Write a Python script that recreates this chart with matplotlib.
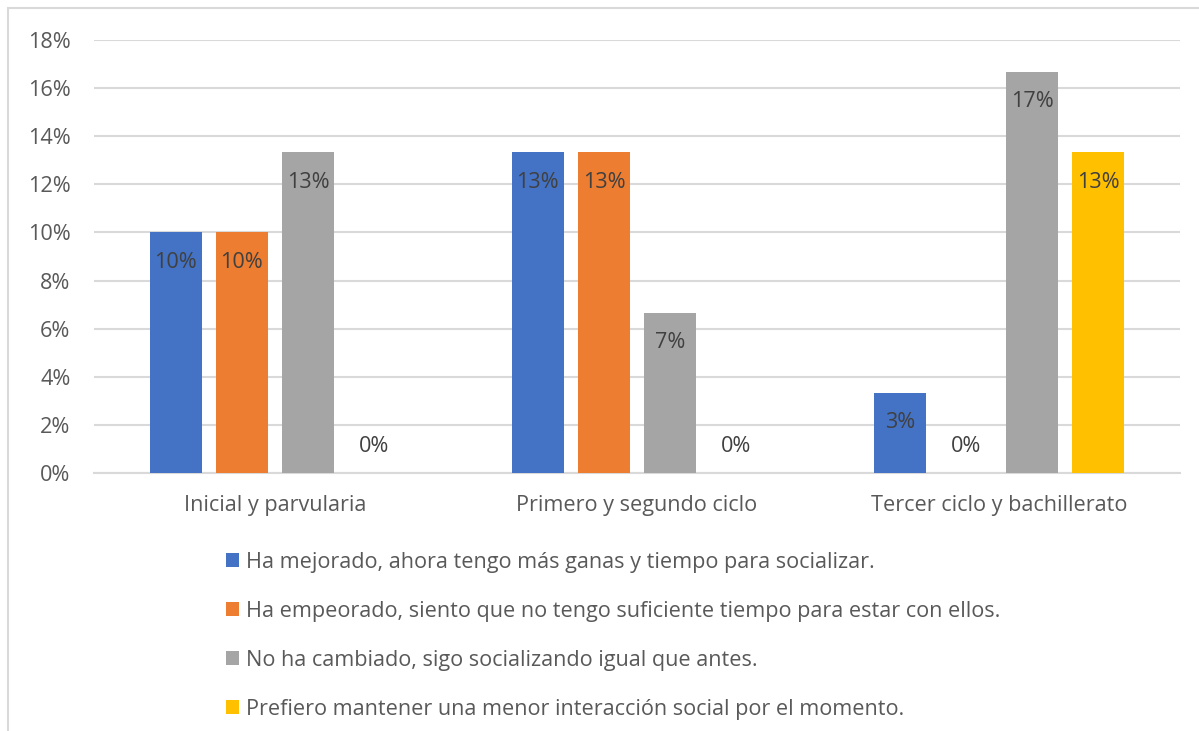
import matplotlib.pyplot as plt
from matplotlib.patches import Rectangle
from matplotlib.ticker import FuncFormatter

plt.rcParams['font.family'] = ['Open Sans', 'DejaVu Sans']

categories = ['Inicial y parvularia', 'Primero y segundo ciclo', 'Tercer ciclo y bachillerato']
series_names = [
    'Ha mejorado, ahora tengo más ganas y tiempo para socializar.',
    'Ha empeorado, siento que no tengo suficiente tiempo para estar con ellos.',
    'No ha cambiado, sigo socializando igual que antes.',
    'Prefiero mantener una menor interacción social por el momento.',
]
mejorado = [10.0, 13.33, 3.33]
empeorado = [10.0, 13.33, 0.0]
no_cambiado = [13.33, 6.67, 16.67]
prefiero = [0.0, 0.0, 13.33]
colors = ['#4472C4', '#ED7D31', '#A5A5A5', '#FFC000']

all_series = [mejorado, empeorado, no_cambiado, prefiero]

W, H = 1199, 731
FS = 15.6
fig = plt.figure(figsize=(W / 100, H / 100), dpi=100)
ax = fig.add_axes([94 / W, 258 / H, (1180 - 94) / W, (473 - 40) / H])

slot = 0.1826
width = 0.144
x = list(range(len(categories)))

handles = []
for j, (vals, col) in enumerate(zip(all_series, colors)):
    pos = [i + (j - 1.5) * slot for i in x]
    bars = ax.bar(pos, vals, width=width, color=col, zorder=3)
    handles.append(bars)
    # data labels: inside end, zeros just above the axis
    for p, v in zip(pos, vals):
        if v > 0:
            off = -30 * 0.72
        else:
            off = 26 * 0.72
        ax.annotate(f'{round(v)}%', (p, v), xytext=(0, off), textcoords='offset points',
                    ha='center', va='center', fontsize=FS, color='#404040', zorder=4)

ax.set_xlim(-0.5, 2.5)
ax.set_ylim(0, 18)
ax.set_yticks(range(0, 19, 2))
ax.yaxis.set_major_formatter(FuncFormatter(lambda v, _: f'{v:.0f}%'))
ax.set_xticks(x)
ax.set_xticklabels(categories)
ax.grid(axis='y', color='#D9D9D9', lw=1.5, zorder=0)
for s in ['top', 'right', 'left']:
    ax.spines[s].set_visible(False)
ax.spines['bottom'].set_color('#D9D9D9')
ax.spines['bottom'].set_linewidth(1.5)
ax.tick_params(axis='y', length=0, pad=17, labelsize=FS, labelcolor='#595959')
ax.tick_params(axis='x', length=0, pad=16, labelsize=FS, labelcolor='#595959')

leg = fig.legend(handles, series_names, loc='upper left', bbox_to_anchor=(226 / W, 1 - 552 / H),
                 frameon=False, fontsize=FS, labelcolor='#595959',
                 handlelength=0.6, handleheight=0.6, handletextpad=0.3,
                 labelspacing=1.29, borderaxespad=0, borderpad=0)

# chart area border
fig.add_artist(Rectangle((8 / W, -0.1), 1.2, 1 - 8 / H + 0.1, transform=fig.transFigure,
                         fill=False, edgecolor='#D9D9D9', lw=1.5))

fig.savefig('out.png', dpi=100)
